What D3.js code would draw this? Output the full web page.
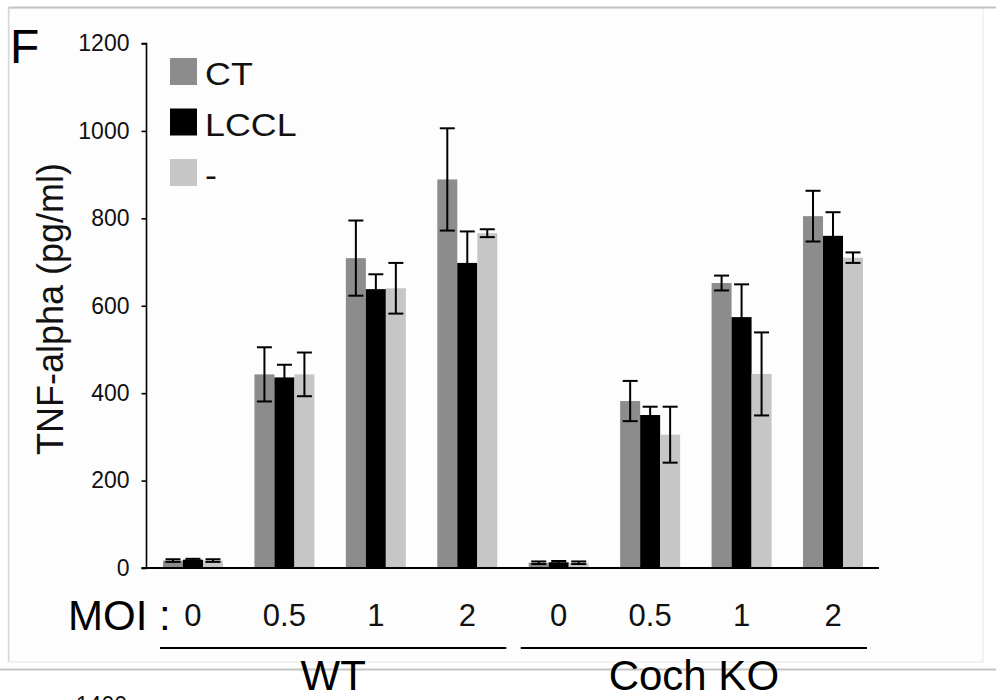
<!DOCTYPE html>
<html>
<head>
<meta charset="utf-8">
<script src="https://cdn.jsdelivr.net/npm/d3@7"></script>
<style>
  html, body { margin: 0; padding: 0; background: #ffffff; }
  svg { display: block; font-family: "Liberation Sans", Arial, Helvetica, sans-serif; }
</style>
</head>
<body>
<svg id="chart" width="996" height="700"></svg>
<script>
// ---- data ----
const categories = ["0", "0.5", "1", "2", "0", "0.5", "1", "2"];
const groups = ["WT", "Coch KO"];
const seriesNames = ["CT", "LCCL", "-"];
const ctValues   = [17, 443, 709, 889, 12, 382, 652, 805];
const ctErrors   = [3, 62, 86, 117, 3, 46, 17, 58];
const lcclValues = [19, 436, 638, 698, 13, 350, 574, 760];
const lcclErrors = [2, 29, 34, 72, 3, 19, 75, 54];
const noneValues = [17, 443, 640, 766, 12, 305, 444, 710];
const noneErrors = [3, 50, 58, 9, 3, 64, 95, 12];
const yTicks = [0, 200, 400, 600, 800, 1000, 1200];
const seriesColors = ["#8c8c8c", "#000000", "#c6c6c6"];

const seriesValues = [ctValues, lcclValues, noneValues];
const seriesErrors = [ctErrors, lcclErrors, noneErrors];
const keys = categories.map((c, i) => i);

const svg = d3.select("#chart");

// ---- panel frame (figure background) ----
svg.append("rect").attr("x", 0).attr("y", 0).attr("width", 996).attr("height", 700).attr("fill", "#ffffff");
svg.append("rect").attr("x", 9).attr("y", 8).attr("width", 974).attr("height", 654)
  .attr("fill", "#fdfdfd").attr("stroke", "#e6e6e6").attr("stroke-width", 1);
svg.append("line").attr("x1", 8).attr("x2", 996).attr("y1", 7.5).attr("y2", 7.5)
  .attr("stroke", "#c4c4c4").attr("stroke-width", 2);
svg.append("line").attr("x1", 8.5).attr("x2", 8.5).attr("y1", 7).attr("y2", 662)
  .attr("stroke", "#d8d8d8").attr("stroke-width", 1.5);
svg.append("line").attr("x1", 0).attr("x2", 996).attr("y1", 669.5).attr("y2", 669.5)
  .attr("stroke", "#c4c4c4").attr("stroke-width", 2);

// ---- scales ----
const y = d3.scaleLinear().domain([0, 1200]).range([568, 43.5]);
const x = d3.scaleBand().domain(keys).range([147, 879]).paddingInner(0.344).paddingOuter(0.175);
const xs = d3.scaleBand().domain(d3.range(seriesNames.length)).range([0, x.bandwidth()]).padding(0);

// ---- y axis ----
const yAxis = d3.axisLeft(y).tickValues(yTicks).tickSize(5).tickPadding(12).tickFormat(d3.format("d"));
const yg = svg.append("g").attr("transform", "translate(146.5,0)").call(yAxis);
yg.select(".domain").attr("stroke", "#000").attr("stroke-width", 1.6).attr("d", "M-5,43.5H0V568");
yg.selectAll(".tick line").attr("stroke", "#000").attr("stroke-width", 1.6);
yg.selectAll(".tick text").attr("font-size", 23).attr("fill", "#111")
  .attr("font-family", "'Liberation Sans', Arial, sans-serif");

// ---- bars ----
const groupSel = svg.append("g").selectAll("g.grp").data(keys).join("g")
  .attr("class", "grp").attr("transform", d => `translate(${x(d)},0)`);

seriesNames.forEach((s, si) => {
  groupSel.append("rect")
    .attr("x", xs(si)).attr("width", xs.bandwidth())
    .attr("y", d => y(seriesValues[si][d]))
    .attr("height", d => y(0) - y(seriesValues[si][d]))
    .attr("fill", seriesColors[si]);
});

// ---- error bars ----
seriesNames.forEach((s, si) => {
  const cx = xs(si) + xs.bandwidth() / 2;
  const eb = groupSel.append("g").attr("stroke", "#000").attr("stroke-width", 2);
  eb.append("line").attr("x1", cx).attr("x2", cx)
    .attr("y1", d => y(seriesValues[si][d] + seriesErrors[si][d]))
    .attr("y2", d => y(Math.max(0, seriesValues[si][d] - seriesErrors[si][d])));
  eb.append("line").attr("x1", cx - 7.5).attr("x2", cx + 7.5)
    .attr("y1", d => y(seriesValues[si][d] + seriesErrors[si][d]))
    .attr("y2", d => y(seriesValues[si][d] + seriesErrors[si][d]));
  eb.append("line").attr("x1", cx - 7.5).attr("x2", cx + 7.5)
    .attr("y1", d => y(Math.max(0, seriesValues[si][d] - seriesErrors[si][d])))
    .attr("y2", d => y(Math.max(0, seriesValues[si][d] - seriesErrors[si][d])));
});

// ---- x axis line ----
svg.append("line").attr("x1", 141.5).attr("x2", x.range()[1]).attr("y1", y(0)).attr("y2", y(0))
  .attr("stroke", "#000").attr("stroke-width", 2);

// ---- category labels ----
svg.append("g").selectAll("text").data(keys).join("text")
  .attr("x", d => x(d) + x.bandwidth() / 2).attr("y", 626)
  .attr("text-anchor", "middle").attr("font-size", 31).attr("fill", "#111")
  .text(d => categories[d]);

svg.append("text").attr("x", 68).attr("y", 630).attr("font-size", 42).attr("fill", "#000")
  .text("MOI :");

// ---- group brackets ----
const groupRanges = [[0, 3], [4, 7]];
const groupLinePad = [[-3, 9], [-8, 4]];
groupRanges.forEach((r, gi) => {
  const x1 = x(r[0]) + groupLinePad[gi][0];
  const x2 = x(r[1]) + x.bandwidth() + groupLinePad[gi][1];
  svg.append("line").attr("x1", x1).attr("x2", x2).attr("y1", 648).attr("y2", 648)
    .attr("stroke", "#000").attr("stroke-width", 2);
  svg.append("text").attr("x", (x1 + x2) / 2).attr("y", 690)
    .attr("text-anchor", "middle").attr("font-size", 42).attr("fill", "#000")
    .text(groups[gi]);
});

// ---- y axis title ----
svg.append("text").attr("transform", "translate(63,309) rotate(-90)")
  .attr("text-anchor", "middle").attr("font-size", 36).attr("fill", "#111")
  .text("TNF-alpha (pg/ml)");

// ---- panel letter ----
svg.append("text").attr("x", 10).attr("y", 63).attr("font-size", 48).attr("fill", "#000").text("F");

// ---- legend ----
const legend = svg.append("g");
seriesNames.forEach((s, si) => {
  const ly = 58 + si * 50.5;
  legend.append("rect").attr("x", 170).attr("y", ly).attr("width", 27).attr("height", 27)
    .attr("fill", seriesColors[si]);
  legend.append("text").attr("transform", `translate(205,${ly + 27}) scale(1.12,1)`)
    .attr("font-size", 32).attr("fill", "#111").text(s);
});

// ---- next panel's tick label, cut off at bottom (as in the reference) ----
svg.append("text").attr("x", 127).attr("y", 713).attr("text-anchor", "end")
  .attr("font-size", 23).attr("fill", "#111").text("1400");
</script>
</body>
</html>
